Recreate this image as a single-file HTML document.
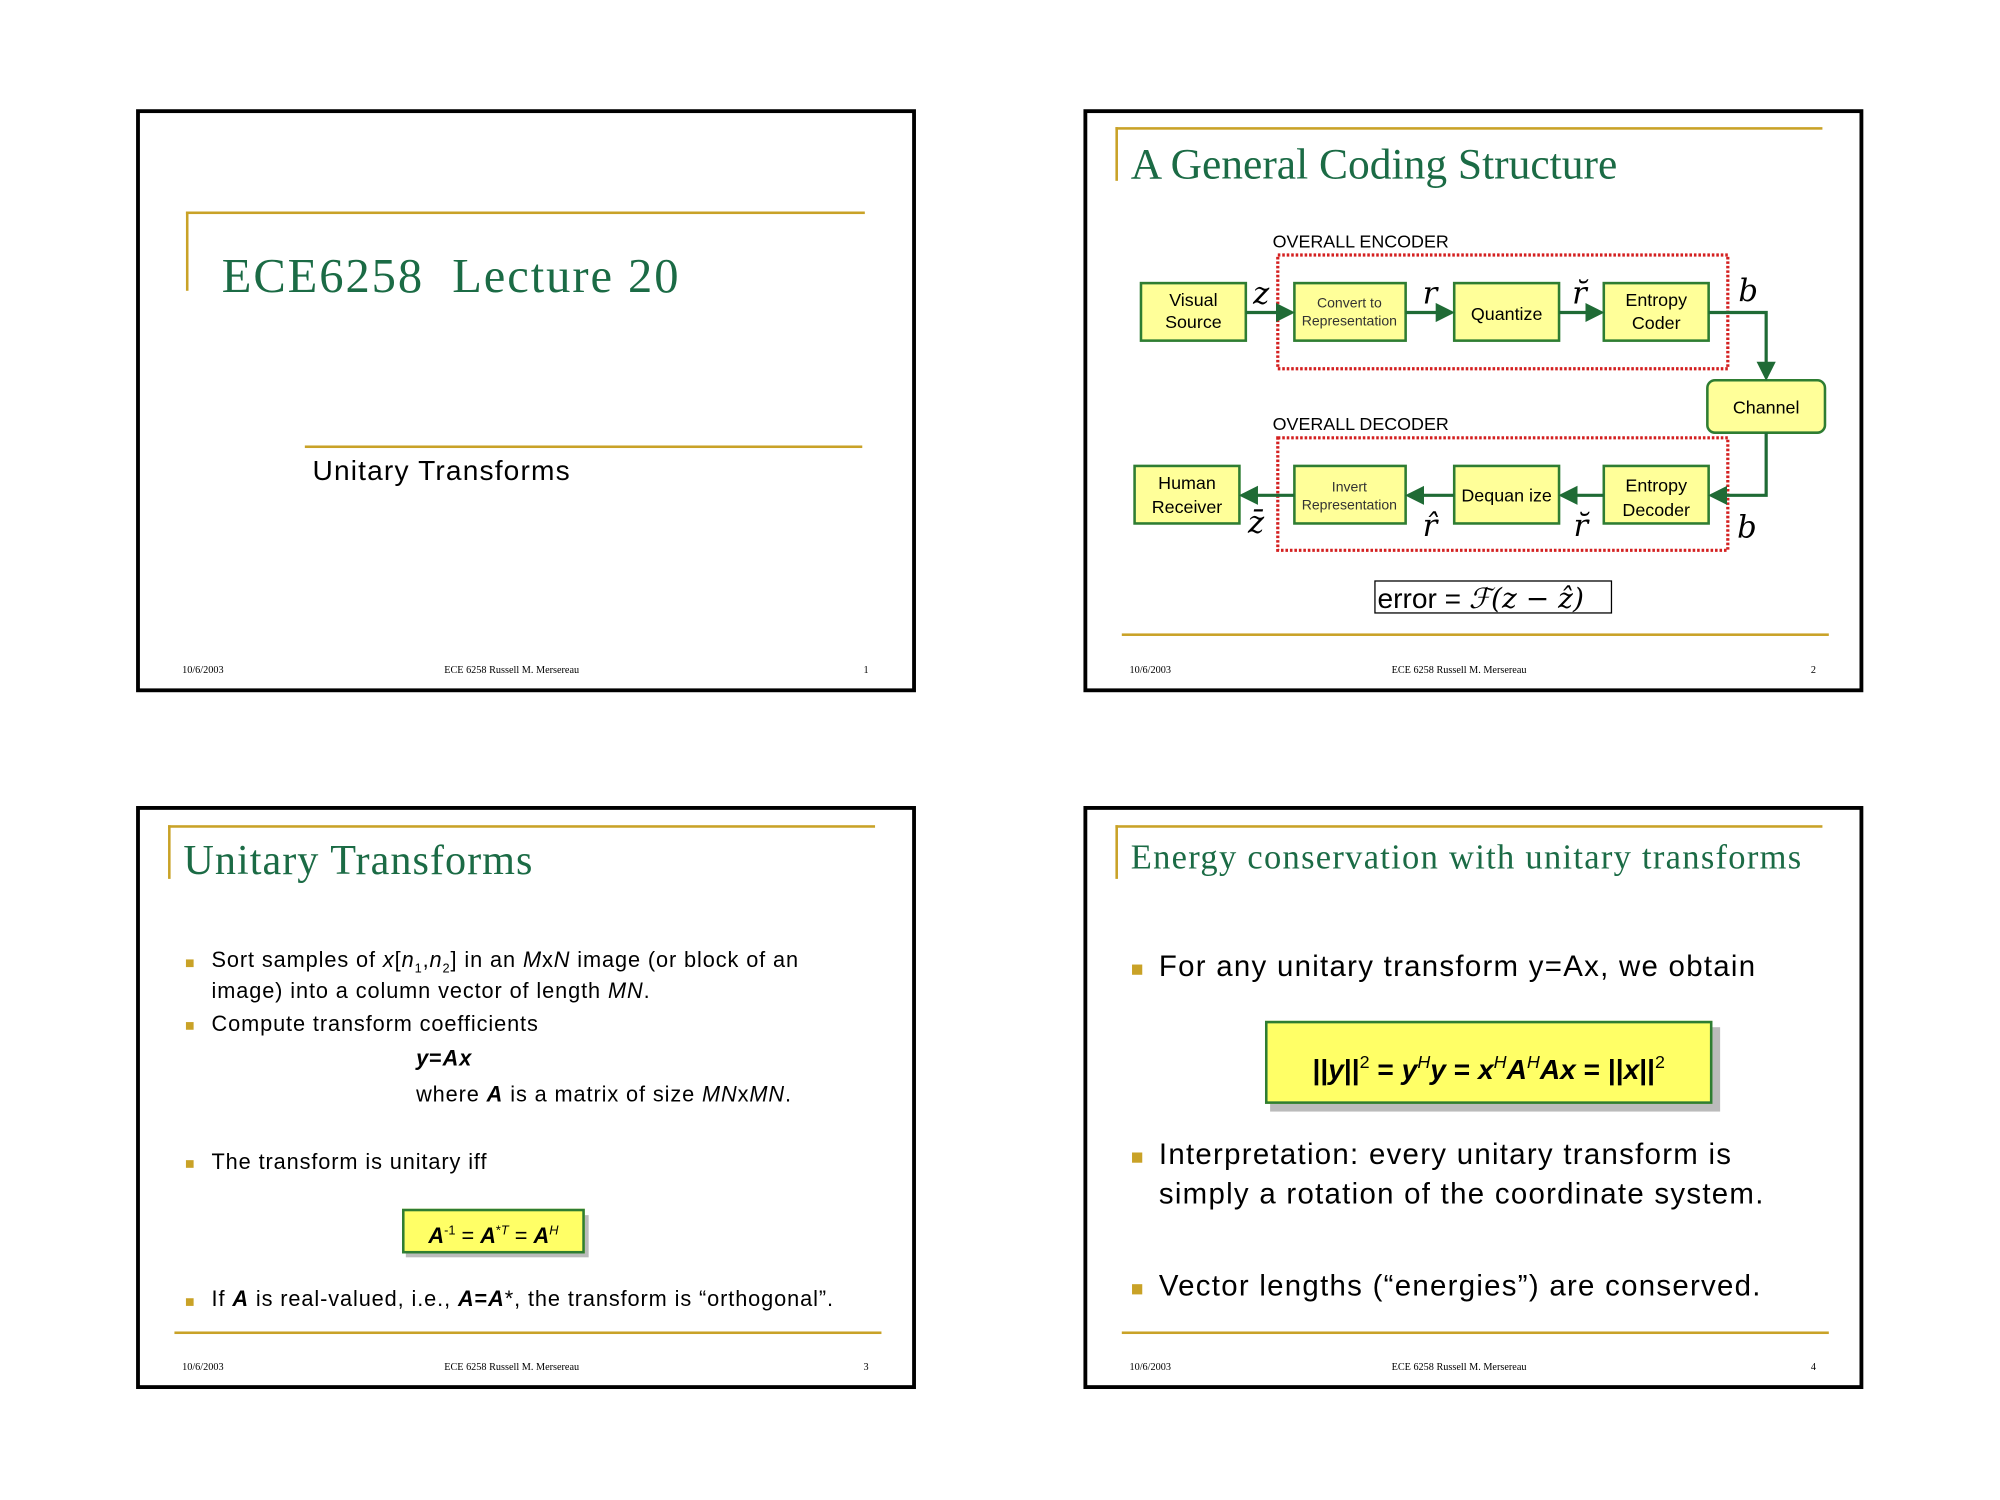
<!DOCTYPE html>
<html><head><meta charset="utf-8"><style>
html,body{margin:0;padding:0;background:#fff;width:2000px;height:1500px;overflow:hidden}
#w{position:absolute;left:0;top:0;width:1552px;height:1164px;transform:translate(-2px,-2px) scale(1.2785);transform-origin:0 0}
.s{position:absolute;width:604px;height:450px;border:3px solid #000;background:#fff}
.a{position:absolute;white-space:nowrap}
.g{position:absolute;background:#c9a227}
.t{font-family:"Liberation Serif",serif;color:#1b6b45}
.f{font-family:"Liberation Serif",serif;font-size:8px;color:#000;top:431px}
.b{font-family:"Liberation Sans",sans-serif;color:#000}
.sq{position:absolute;width:6px;height:6px;background:#c9a227}
</style></head><body><div id="w">

<!-- Slide 1 -->
<div class="s" style="left:108px;top:87px">
 <div class="g" style="left:36px;top:77px;width:531px;height:2px"></div>
 <div class="g" style="left:36px;top:77px;width:2px;height:62px"></div>
 <div class="a t" style="left:64px;top:106px;font-size:38px;letter-spacing:1.5px">ECE6258&nbsp; Lecture 20</div>
 <div class="g" style="left:129px;top:260px;width:436px;height:2px"></div>
 <div class="a b" style="left:135px;top:267px;font-size:22px;letter-spacing:0.9px">Unitary Transforms</div>
 <div class="a f" style="left:33px">10/6/2003</div>
 <div class="a f" style="left:238px">ECE 6258 Russell M. Mersereau</div>
 <div class="a f" style="left:566px">1</div>
</div>

<!-- Slide 2 -->
<div class="s" style="left:849px;top:87px">
 <div class="g" style="left:22px;top:11px;width:553px;height:2px"></div>
 <div class="g" style="left:22px;top:11px;width:2px;height:42px"></div>
 <div class="a t" style="left:34px;top:22px;font-size:34px">A General Coding Structure</div>
 <div class="g" style="left:27px;top:407px;width:553px;height:2px"></div>
 <div class="a f" style="left:33px">10/6/2003</div>
 <div class="a f" style="left:238px">ECE 6258 Russell M. Mersereau</div>
 <div class="a f" style="left:566px">2</div>
 <svg style="position:absolute;left:-3px;top:-3px" width="610" height="456" font-family="Liberation Sans, sans-serif">
  <defs><marker id="ar" markerWidth="6" markerHeight="6" refX="5" refY="3" orient="auto"><path d="M0,0 L6,3 L0,6 z" fill="#1f6b35"/></marker></defs>
  <text x="148" y="108" font-size="14">OVERALL ENCODER</text>
  <text x="148" y="251" font-size="14">OVERALL DECODER</text>
  <rect x="152" y="114" width="352" height="89" fill="none" stroke="#d42020" stroke-width="2.5" stroke-dasharray="2,1.5"/>
  <rect x="152" y="257" width="352" height="88" fill="none" stroke="#d42020" stroke-width="2.5" stroke-dasharray="2,1.5"/>
  <g fill="#ffff99" stroke="#2e7d32" stroke-width="2">
   <rect x="45" y="136" width="82" height="45"/><rect x="165" y="136" width="87" height="45"/>
   <rect x="290" y="136" width="82" height="45"/><rect x="407" y="136" width="82" height="45"/>
   <rect x="488" y="212" width="92" height="41" rx="6"/>
   <rect x="40" y="279" width="82" height="45"/><rect x="165" y="279" width="87" height="45"/>
   <rect x="290" y="279" width="82" height="45"/><rect x="407" y="279" width="82" height="45"/>
  </g>
  <g stroke="#1f6b35" stroke-width="2.5" fill="none" marker-end="url(#ar)">
   <line x1="127" y1="159" x2="163" y2="159"/><line x1="252" y1="159" x2="288" y2="159"/>
   <line x1="372" y1="159" x2="405" y2="159"/>
   <polyline points="489,159 534,159 534,210"/>
   <polyline points="534,253 534,302 491,302"/>
   <line x1="407" y1="302" x2="374" y2="302"/><line x1="290" y1="302" x2="254" y2="302"/>
   <line x1="165" y1="302" x2="124" y2="302"/>
  </g>
  <g font-size="14" text-anchor="middle">
   <text x="86" y="154">Visual</text><text x="86" y="171">Source</text>
   <text x="208" y="155" font-size="11" fill="#333">Convert to</text><text x="208" y="169" font-size="11" fill="#333">Representation</text>
   <text x="331" y="165">Quantize</text>
   <text x="448" y="154">Entropy</text><text x="448" y="172">Coder</text>
   <text x="534" y="238">Channel</text>
   <text x="81" y="297">Human</text><text x="81" y="316">Receiver</text>
   <text x="208" y="299" font-size="11" fill="#333">Invert</text><text x="208" y="313" font-size="11" fill="#333">Representation</text>
   <text x="331" y="307">Dequan ize</text>
   <text x="448" y="299">Entropy</text><text x="448" y="318">Decoder</text>
  </g>
  <g font-family="DejaVu Serif, serif" font-style="italic" font-size="24" text-anchor="middle">
   <text x="139" y="152">z</text><text x="271" y="152">r</text><text x="388" y="152">r̆</text><text x="520" y="150">b</text>
   <text x="135" y="331">z̄</text><text x="271" y="334">r̂</text><text x="389" y="334">r̆</text><text x="519" y="335">b</text>
  </g>
  <rect x="228" y="369" width="185" height="25" fill="none" stroke="#000" stroke-width="1"/>
  <text x="230" y="390" font-size="22">error = <tspan font-family="DejaVu Serif, serif" font-style="italic">ℱ(z − ẑ)</tspan></text>
 </svg>
</div>

<!-- Slide 3 -->
<div class="s" style="left:108px;top:632px">
 <div class="g" style="left:22px;top:12px;width:553px;height:2px"></div>
 <div class="g" style="left:22px;top:12px;width:2px;height:42px"></div>
 <div class="a t" style="left:34px;top:22px;font-size:33px;letter-spacing:0.8px">Unitary Transforms</div>
 <div class="b" style="position:absolute;left:0;top:0;font-size:17px;letter-spacing:0.7px">
  <div class="sq" style="left:36px;top:117px"></div><div class="a" style="left:56px;top:108px">Sort samples of <i>x</i>[<i>n</i><sub style="font-size:10px">1</sub>,<i>n</i><sub style="font-size:10px">2</sub>] in an <i>M</i>x<i>N</i> image (or block of an</div>
  <div class="a" style="left:56px;top:132px">image) into a column vector of length <i>MN</i>.</div>
  <div class="sq" style="left:36px;top:166px"></div><div class="a" style="left:56px;top:158px">Compute transform coefficients</div>
  <div class="a" style="left:216px;top:185px"><b><i>y</i>=<i>Ax</i></b></div>
  <div class="a" style="left:216px;top:213px">where <b><i>A</i></b> is a matrix of size <i>MN</i>x<i>MN</i>.</div>
  <div class="sq" style="left:36px;top:274px"></div><div class="a" style="left:56px;top:266px">The transform is unitary iff</div>
  <div style="position:absolute;left:208px;top:317px;width:143px;height:33px;background:#bbb"></div>
  <div class="a" style="left:205px;top:312px;width:139px;height:31px;background:#ffff66;border:2px solid #2e7d32;text-align:center;line-height:31px;letter-spacing:0"><b><i>A</i></b><sup style="font-size:10px">-1</sup> = <b><i>A</i></b><sup style="font-size:10px">*<i>T</i></sup> = <b><i>A</i></b><sup style="font-size:10px"><i>H</i></sup></div>
  <div class="sq" style="left:36px;top:382px"></div><div class="a" style="left:56px;top:373px">If <b><i>A</i></b> is real-valued, i.e., <b><i>A</i>=<i>A</i></b>*, the transform is “orthogonal”.</div>
 </div>
 <div class="g" style="left:27px;top:408px;width:553px;height:2px"></div>
 <div class="a f" style="left:33px">10/6/2003</div>
 <div class="a f" style="left:238px">ECE 6258 Russell M. Mersereau</div>
 <div class="a f" style="left:566px">3</div>
</div>

<!-- Slide 4 -->
<div class="s" style="left:849px;top:632px">
 <div class="g" style="left:22px;top:12px;width:553px;height:2px"></div>
 <div class="g" style="left:22px;top:12px;width:2px;height:42px"></div>
 <div class="a t" style="left:34px;top:22px;font-size:27px;letter-spacing:1px">Energy conservation with unitary transforms</div>
 <div class="b" style="position:absolute;left:0;top:0;font-size:23px;letter-spacing:1px">
  <div class="sq" style="left:35px;top:121px;width:8px;height:8px"></div><div class="a" style="left:56px;top:109px">For any unitary transform y=Ax, we obtain</div>
  <div style="position:absolute;left:143px;top:170px;width:352px;height:66px;background:#bbb"></div>
  <div class="a" style="left:139px;top:165px;width:346px;height:61px;background:#ffff66;border:2px solid #2e7d32;text-align:center;line-height:61px;font-size:22px;font-weight:bold;letter-spacing:0">||<i>y</i>||<sup style="font-size:14px;font-weight:normal">2</sup> = <i>y</i><sup style="font-size:14px;font-weight:normal"><i>H</i></sup><i>y</i> = <i>x</i><sup style="font-size:14px;font-weight:normal"><i>H</i></sup><i>A</i><sup style="font-size:14px;font-weight:normal"><i>H</i></sup><i>Ax</i> = ||<i>x</i>||<sup style="font-size:14px;font-weight:normal">2</sup></div>
  <div class="sq" style="left:35px;top:268px;width:8px;height:8px"></div><div class="a" style="left:56px;top:256px">Interpretation: every unitary transform is</div>
  <div class="a" style="left:56px;top:287px">simply a rotation of the coordinate system.</div>
  <div class="sq" style="left:35px;top:371px;width:8px;height:8px"></div><div class="a" style="left:56px;top:359px">Vector lengths (“energies”) are conserved.</div>
 </div>
 <div class="g" style="left:27px;top:408px;width:553px;height:2px"></div>
 <div class="a f" style="left:33px">10/6/2003</div>
 <div class="a f" style="left:238px">ECE 6258 Russell M. Mersereau</div>
 <div class="a f" style="left:566px">4</div>
</div>

</div></body></html>
